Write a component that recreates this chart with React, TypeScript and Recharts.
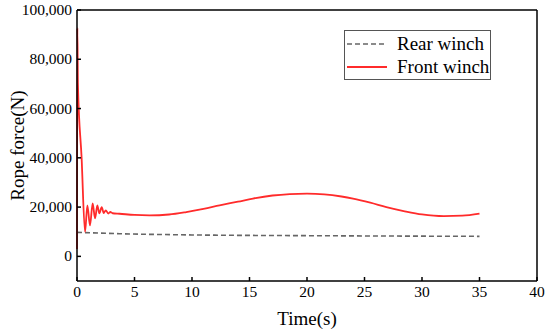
import { LineChart, Line, XAxis, YAxis, ReferenceLine, Label } from 'recharts'

const xTicks = [0, 5, 10, 15, 20, 25, 30, 35, 40]
const yTicks = [0, 20000, 40000, 60000, 80000, 100000]

const frontTime = [
   0, 0.03, 0.08, 0.4, 0.7, 0.9, 1.13, 1.36, 1.57, 1.77, 1.94, 2.15, 2.32, 2.5, 2.72, 2.9, 3.1, 3.7, 5,
   6.3, 8, 9.5, 11, 12.4, 14, 15.3, 17, 18.5, 20, 21.5, 23, 24, 25.5, 26.9, 28.5, 30, 31.9, 33.5, 35,
]
const frontForce = [
   3000, 92700, 70000, 40000, 9900, 20700, 12600, 21500, 15400, 20700, 17500, 20000, 17600, 18700, 17400,
   18000, 17500, 17300, 16800, 16650, 17000, 18000, 19300, 20700, 22200, 23450, 24700, 25300, 25500,
   25200, 24300, 23450, 21800, 20000, 18300, 17000, 16300, 16500, 17350,
]

const rearTime = [0, 3.7, 10, 20, 35]
const rearForce = [9750, 9200, 8700, 8400, 8130]

const frontData = frontTime.map((t, i) => ({ t, v: frontForce[i] }))
const rearData = rearTime.map((t, i) => ({ t, v: rearForce[i] }))

const FONT = '"Liberation Serif", "Times New Roman", serif'
const RED = '#ff2b2b'
const GRAY = '#666666'

const css = `body { margin: 0; } .recharts-text { font-family: ${FONT}; }`

function XTick({ x, y, payload }: any) {
   return (
      <text x={x} y={y} dy={12} textAnchor="middle" fill="#000" style={{ fontFamily: FONT, fontSize: 15.5 }}>
         {payload.value}
      </text>
   )
}

function YTick({ x, y, payload }: any) {
   return (
      <text x={x} y={y} dy={5} textAnchor="end" fill="#000" style={{ fontFamily: FONT, fontSize: 15.5 }}>
         {Number(payload.value).toLocaleString('en-US')}
      </text>
   )
}

function LegendBox() {
   return (
      <div
         style={{
            position: 'absolute',
            left: 344,
            top: 30,
            width: 145,
            height: 48,
            border: '1px solid #555',
            background: '#fff',
            fontFamily: FONT,
            fontSize: 19,
            lineHeight: '22px',
            color: '#000',
         }}
      >
         <div style={{ display: 'flex', alignItems: 'center', height: 24, marginTop: 1 }}>
            <svg width={42} height={6} style={{ marginLeft: 2 }}>
               <line x1={0} y1={3} x2={40} y2={3} stroke={GRAY} strokeWidth={1.6} strokeDasharray="5 3" />
            </svg>
            <span style={{ marginLeft: 8 }}>Rear winch</span>
         </div>
         <div style={{ display: 'flex', alignItems: 'center', height: 22 }}>
            <svg width={42} height={6} style={{ marginLeft: 2 }}>
               <line x1={0} y1={3} x2={40} y2={3} stroke={RED} strokeWidth={2} />
            </svg>
            <span style={{ marginLeft: 8 }}>Front winch</span>
         </div>
      </div>
   )
}

export default function App() {
   return (
      <div
         style={{
            width: 550,
            height: 333,
            background: '#fff',
            position: 'relative',
            fontFamily: FONT,
         }}
      >
         <style>{css}</style>
         <LineChart width={550} height={333} margin={{ top: 10, right: 13, bottom: 0, left: 0 }}>
            <XAxis
               type="number"
               dataKey="t"
               domain={[0, 40]}
               ticks={xTicks}
               allowDuplicatedCategory={false}
               height={52}
               stroke="#000"
               strokeWidth={1.5}
               tickSize={-4}
               tickMargin={8}
               tick={<XTick />}
            >
               <Label
                  value="Time(s)"
                  position="insideBottom"
                  offset={8}
                  style={{ fill: '#000', fontSize: 19, fontFamily: FONT }}
               />
            </XAxis>
            <YAxis
               type="number"
               domain={[-10000, 100000]}
               ticks={yTicks}
               width={77}
               stroke="#000"
               strokeWidth={1.5}
               tickSize={-4}
               tickMargin={9}
               tick={<YTick />}
            >
               <Label
                  value="Rope force(N)"
                  angle={-90}
                  position="insideLeft"
                  offset={17}
                  style={{ fill: '#000', fontSize: 19, fontFamily: FONT, textAnchor: 'middle' }}
               />
            </YAxis>
            <ReferenceLine y={100000} stroke="#000" strokeWidth={1.5} />
            <ReferenceLine x={40} stroke="#000" strokeWidth={1.5} />
            <Line
               data={rearData}
               dataKey="v"
               type="monotone"
               stroke={GRAY}
               strokeWidth={1.6}
               strokeDasharray="5 3"
               dot={false}
               isAnimationActive={false}
            />
            <Line
               data={frontData}
               dataKey="v"
               type="monotone"
               stroke={RED}
               strokeWidth={1.8}
               dot={false}
               isAnimationActive={false}
            />
         </LineChart>
         <LegendBox />
      </div>
   )
}
